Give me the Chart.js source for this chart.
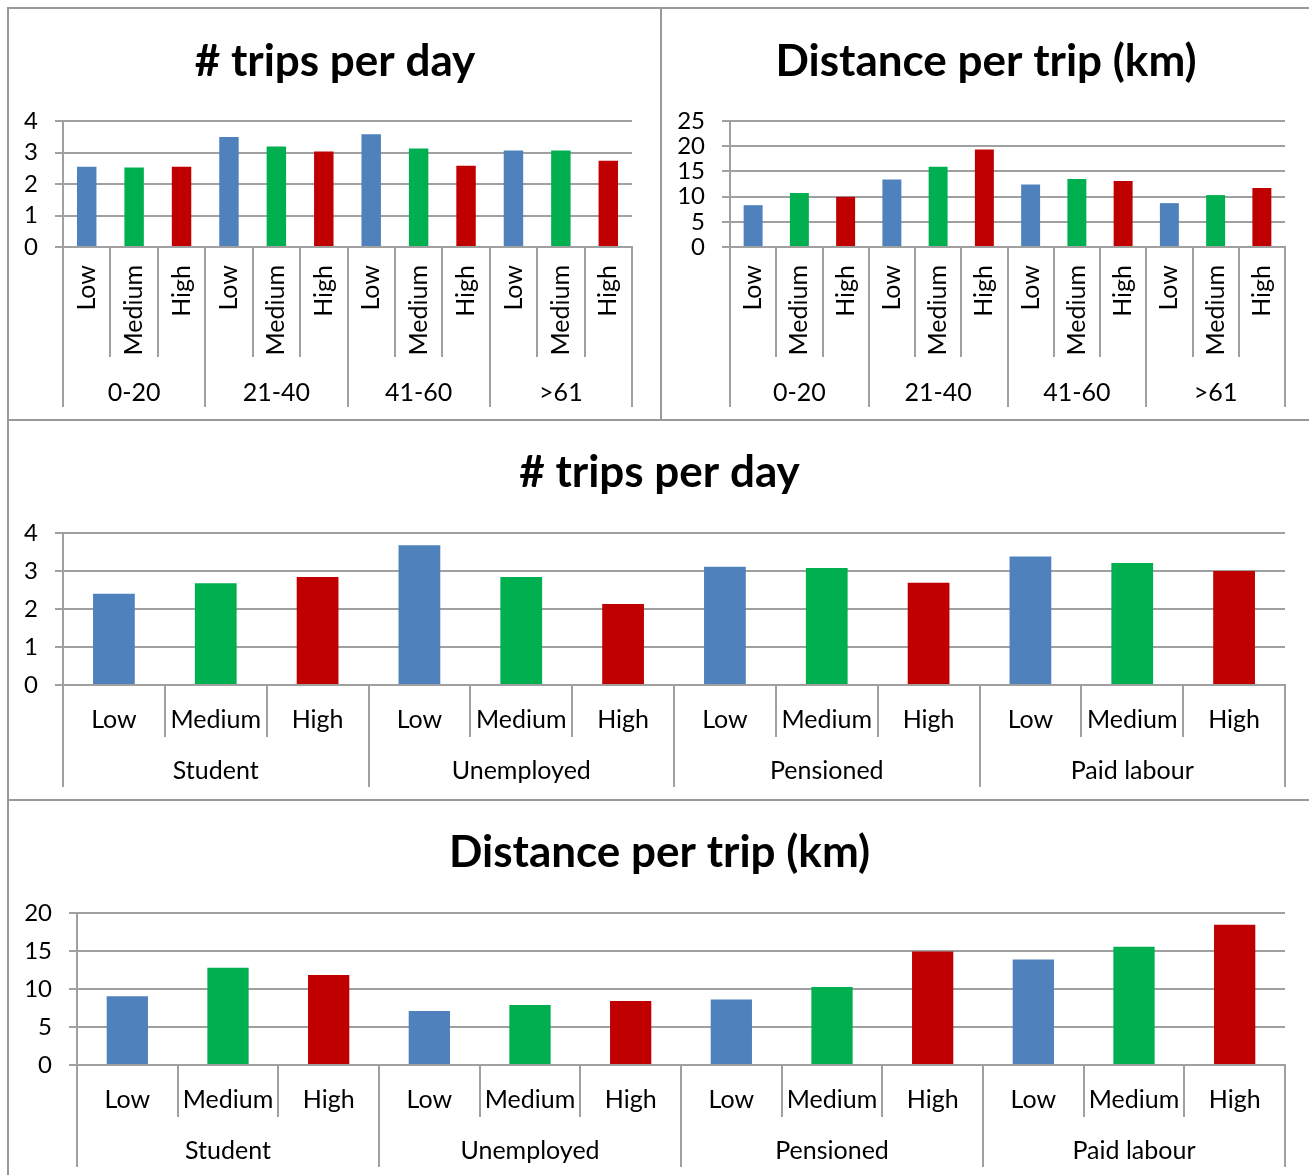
<!DOCTYPE html>
<html>
<head>
<meta charset="utf-8">
<script src="https://cdn.jsdelivr.net/npm/chart.js@4"></script>
<style>
  body { margin: 0; background: #fff; width: 1309px; height: 1175px; position: relative; overflow: hidden; }
  .line { position: absolute; background: #999; }
  canvas { position: absolute; }
</style>
</head>
<body>
<div class="line" style="left:7px;top:7px;width:1302px;height:2px"></div>
<div class="line" style="left:7px;top:7px;width:2px;height:1168px"></div>
<div class="line" style="left:660px;top:7px;width:2px;height:413px"></div>
<div class="line" style="left:7px;top:419px;width:1302px;height:2px"></div>
<div class="line" style="left:7px;top:799px;width:1302px;height:2px"></div>

<canvas id="tripsByAge" width="650" height="410" style="left:10px;top:10px"></canvas>
<canvas id="distByAge" width="646" height="410" style="left:663px;top:10px"></canvas>
<canvas id="tripsByStatus" width="1299" height="378" style="left:10px;top:422px"></canvas>
<canvas id="distByStatus" width="1299" height="373" style="left:10px;top:802px"></canvas>

<script>
age_groups = ['0-20', '21-40', '41-60', '>61']
status_groups = ['Student', 'Unemployed', 'Pensioned', 'Paid labour']
levels = ['Low', 'Medium', 'High']
level_colors = ['#4F81BD', '#00B050', '#C00000']

trips_by_age = [2.55, 2.52, 2.55, 3.49, 3.19, 3.03, 3.58, 3.13, 2.58, 3.06, 3.06, 2.74]
dist_by_age = [8.3, 10.7, 9.95, 13.4, 15.9, 19.35, 12.4, 13.5, 13.1, 8.7, 10.3, 11.7]
trips_by_status = [2.40, 2.68, 2.84, 3.68, 2.84, 2.13, 3.11, 3.08, 2.69, 3.38, 3.21, 3.00]
dist_by_status = [9.03, 12.78, 11.85, 7.09, 7.89, 8.41, 8.63, 10.26, 14.93, 13.88, 15.55, 18.46]

const GRID = '#a0a0a0'
const FONT = 'Lato'
const TITLE_SIZE = 44
const LABEL_SIZE = 25

function subLabels(groups) {
  labels = []
  colors = []
  groups.forEach(function(g){
    levels.forEach(function(l, i){
      labels.push(l)
      colors.push(level_colors[i])
    })
  })
  return {labels: labels, colors: colors}
}

function drawChart(o) {
  sub = subLabels(o.groups)
  titleLine = TITLE_SIZE * 1.2
  titleTop = o.titleCenter - titleLine / 2
  new Chart(document.getElementById(o.id), {
    type: 'bar',
    data: {
      labels: sub.labels,
      datasets: [{
        data: o.values,
        backgroundColor: sub.colors,
        categoryPercentage: 1,
        barPercentage: 0.41,
      }]
    },
    options: {
      responsive: false,
      animation: false,
      layout: { padding: { top: 0, right: 0, bottom: o.padBottom, left: 0 } },
      plugins: {
        legend: { display: false },
        tooltip: { enabled: false },
        title: {
          display: true,
          text: o.title,
          color: '#000',
          font: { family: FONT, size: TITLE_SIZE, weight: 'bold', lineHeight: 1.2 },
          padding: { top: titleTop, bottom: 111 - titleTop - titleLine },
        }
      },
      scales: {
        y: {
          min: 0, max: o.yMax,
          afterFit: function(s){ s.width = o.yWidth },
          ticks: { stepSize: o.yStep, autoSkip: false, color: '#000', padding: 17, font: { family: FONT, size: 24 } },
          grid: { color: GRID, lineWidth: 2, tickLength: 8 },
          border: { display: true, color: GRID, width: 2 },
        },
        // empty right axis, only keeps the right margin so the title stays centred on the panel
        yRight: {
          type: 'linear',
          position: 'right',
          afterFit: function(s){ s.width = o.padRight },
          ticks: { display: false },
          grid: { display: false },
          border: { display: false },
        },
        x: {
          weight: 0,
          offset: true,
          afterFit: function(s){ s.height = o.subH },
          ticks: {
            autoSkip: false,
            color: '#000',
            font: { family: FONT, size: LABEL_SIZE },
            minRotation: o.rotated ? 90 : 0,
            maxRotation: o.rotated ? 90 : 0,
            padding: o.subPad,
          },
          grid: { offset: true, drawOnChartArea: false, color: GRID, lineWidth: 2, tickLength: o.subH },
          border: { display: true, color: GRID, width: 2 },
        },
        x2: {
          type: 'category',
          position: 'bottom',
          weight: 1,
          offset: true,
          labels: o.groups,
          afterFit: function(s){ s.height = 50 },
          ticks: { color: '#000', font: { family: FONT, size: LABEL_SIZE }, padding: o.groupPad, maxRotation: 0 },
          grid: { offset: true, drawOnChartArea: false, color: GRID, lineWidth: 2, tickLength: 50 },
          border: { display: false },
        }
      }
    }
  })
}

drawChart({
  id: 'tripsByAge', title: '# trips per day', groups: age_groups, values: trips_by_age,
  yMax: 4, yStep: 1, yWidth: 53, rotated: true, padRight: 28, padBottom: 13,
  titleCenter: 52, subH: 110, subPad: 18 - 110, groupPad: 36 - 50 - 15
})

drawChart({
  id: 'distByAge', title: 'Distance per trip (km)', groups: age_groups, values: dist_by_age,
  yMax: 25, yStep: 5, yWidth: 67, rotated: true, padRight: 24, padBottom: 13,
  titleCenter: 52, subH: 110, subPad: 18 - 110, groupPad: 36 - 50 - 15
})

drawChart({
  id: 'tripsByStatus', title: '# trips per day', groups: status_groups, values: trips_by_status,
  yMax: 4, yStep: 1, yWidth: 53, rotated: false, padRight: 24, padBottom: 13,
  titleCenter: 51, subH: 52, subPad: 35 - 52 - 15, groupPad: 34 - 50 - 15
})

drawChart({
  id: 'distByStatus', title: 'Distance per trip (km)', groups: status_groups, values: dist_by_status,
  yMax: 20, yStep: 5, yWidth: 67, rotated: false, padRight: 24, padBottom: 8,
  titleCenter: 51, subH: 52, subPad: 35 - 52 - 15, groupPad: 34 - 50 - 15
})
</script>
</body>
</html>
